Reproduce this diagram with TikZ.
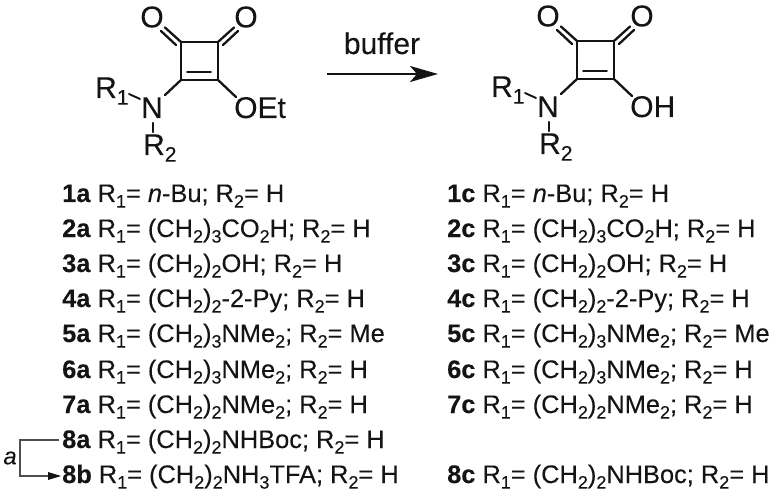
\documentclass[tikz,border=0pt]{standalone}
\usepackage{fontspec}
\setmainfont{Liberation Sans}[FakeBold=0.12]
\usetikzlibrary{arrows.meta}
\newcommand{\sbs}[1]{\raisebox{-0.22em}{\fontsize{18}{18}\selectfont #1}}
\newcommand{\Ro}{R\sbs{1}=}
\newcommand{\Rt}{R\sbs{2}=}
\newcommand{\CH}[1]{(CH\sbs{2})\sbs{#1}}
\definecolor{ink}{gray}{0.08}
\tikzset{
  x=1pt,y=-1pt,
  bond/.style={line width=2.3pt,draw=ink,line cap=round},
  thinbond/.style={line width=1.9pt,draw=ink,line cap=round},
  atom/.style={inner sep=0pt,text=ink,font=\fontsize{30}{30}\selectfont},
  entry/.style={inner sep=0pt,anchor=base west,text=ink,font=\fontsize{25.4}{27}\selectfont},
  routeline/.style={line width=1.5pt,draw=ink!75!white},
}
\newcommand{\molecule}[3]{%
\begin{scope}[shift={(#1)}]
  \coordinate (#2tl) at (181,42); \coordinate (#2tr) at (218,42);
  \coordinate (#2bl) at (181,80); \coordinate (#2br) at (218,80);
  \node[atom] (#2ol) at (152,17) {O};
  \node[atom] (#2or) at (246,17) {O};
  \node[atom,anchor=base] (#2n) at (152,118) {N};
  \node[atom,anchor=base west] (#2ra) at (95,98) {R\raisebox{-0.22em}{\fontsize{21}{21}\selectfont 1}};
  \node[atom,anchor=base west] (#2rb) at (143,155) {R\raisebox{-0.22em}{\fontsize{21}{21}\selectfont 2}};
  \node[atom,anchor=base west] (#2x) at (234,118) {#3};
  \draw[bond] (#2tl)--(#2tr)--(#2br)--(#2bl)--cycle;
  \draw[thinbond] (187,72)--(211,72);
  \draw[bond] (#2tl)--(165,27.5);
  \draw[bond] (176,45)--(161,31);
  \draw[bond] (#2tr)--(234,27.5);
  \draw[bond] (223,45)--(238,31);
  \draw[bond] (#2bl)--(165,95);
  \draw[thinbond] (129,94)--(140,99);
  \draw[bond] (153,123)--(153,132);
  \draw[bond] (#2br)--(236,97);
\end{scope}}
\begin{document}
\begin{tikzpicture}
\useasboundingbox (0,0) rectangle (773,494);
\molecule{0,0}{p}{OEt}
\molecule{396,-1}{q}{OH}
\node[inner sep=0pt,anchor=base,text=ink,font=\fontsize{30}{30}\selectfont] (buf) at (382,54) {buffer};
\coordinate (arrs) at (327,74); \coordinate (arre) at (438,74);
\draw[line width=2.2pt,draw=ink,-{Stealth[length=28pt,width=16pt,inset=7pt]}] (arrs)--(arre);
% left column
\node[entry] (a1) at (62,202) {\textbf{1a} \Ro{} \textit{n}-Bu; \Rt{} H};
\node[entry] (a2) at (62,237) {\textbf{2a} \Ro{} \CH{3}CO\sbs{2}H; \Rt{} H};
\node[entry] (a3) at (62,272) {\textbf{3a} \Ro{} \CH{2}OH; \Rt{} H};
\node[entry] (a4) at (62,307) {\textbf{4a} \Ro{} \CH{2}-2-Py; \Rt{} H};
\node[entry] (a5) at (62,342) {\textbf{5a} \Ro{} \CH{3}NMe\sbs{2}; \Rt{} Me};
\node[entry] (a6) at (62,378) {\textbf{6a} \Ro{} \CH{3}NMe\sbs{2}; \Rt{} H};
\node[entry] (a7) at (62,413) {\textbf{7a} \Ro{} \CH{2}NMe\sbs{2}; \Rt{} H};
\node[entry] (a8) at (62,448) {\textbf{8a} \Ro{} \CH{2}NHBoc; \Rt{} H};
\node[entry] (b8) at (62,483) {\textbf{8b} \Ro{} \CH{2}NH\sbs{3}TFA; \Rt{} H};
% right column
\node[entry] (c1) at (447,202) {\textbf{1c} \Ro{} \textit{n}-Bu; \Rt{} H};
\node[entry] (c2) at (447,237) {\textbf{2c} \Ro{} \CH{3}CO\sbs{2}H; \Rt{} H};
\node[entry] (c3) at (447,272) {\textbf{3c} \Ro{} \CH{2}OH; \Rt{} H};
\node[entry] (c4) at (447,307) {\textbf{4c} \Ro{} \CH{2}-2-Py; \Rt{} H};
\node[entry] (c5) at (447,342) {\textbf{5c} \Ro{} \CH{3}NMe\sbs{2}; \Rt{} Me};
\node[entry] (c6) at (447,378) {\textbf{6c} \Ro{} \CH{3}NMe\sbs{2}; \Rt{} H};
\node[entry] (c7) at (447,413) {\textbf{7c} \Ro{} \CH{2}NMe\sbs{2}; \Rt{} H};
\node[entry] (c8) at (447,483) {\textbf{8c} \Ro{} \CH{2}NHBoc; \Rt{} H};
% route
\node[inner sep=0pt,text=ink,font=\itshape\fontsize{24}{24}\selectfont] (alab) at (10,458) {a};
\coordinate (aup) at (a8.base west); \coordinate (adn) at (b8.base west);
\draw[routeline] ([xshift=-3pt,yshift=8pt]aup) -| ([xshift=-42pt,yshift=7pt]adn)
  -- ([xshift=-3pt,yshift=7pt]adn);
\fill[ink] ([xshift=-1pt,yshift=7pt]adn) -- ([xshift=-14pt,yshift=3pt]adn) -- ([xshift=-14pt,yshift=11pt]adn) -- cycle;
\end{tikzpicture}
\end{document}
